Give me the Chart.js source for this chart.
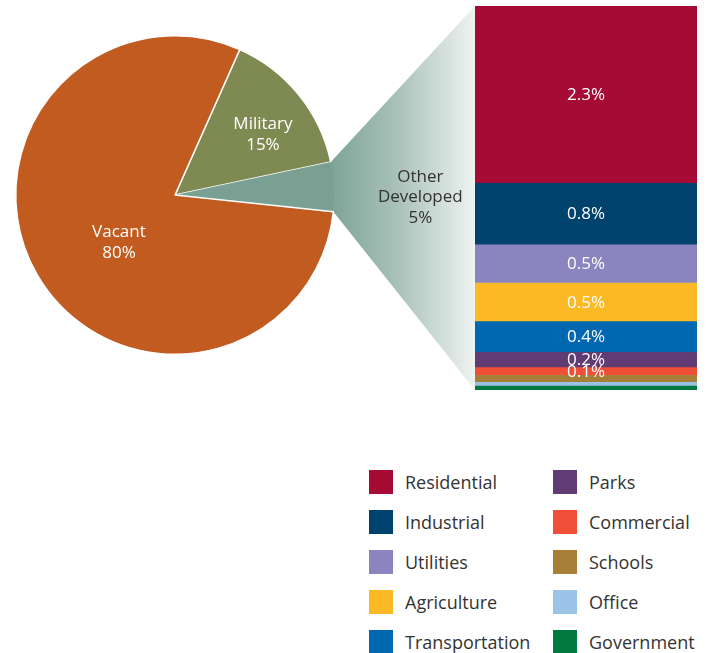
<!DOCTYPE html>
<html>
<head>
<meta charset="utf-8">
<script src="https://cdn.jsdelivr.net/npm/chart.js@4"></script>
<style>
  body { margin: 0; background: #fff; font-family: "Open Sans", sans-serif; }
  #wrap { position: relative; width: 706px; height: 653px; }
  #wrap canvas { position: absolute; left: 0; top: 0; }
  .legend-item { position: absolute; display: flex; align-items: center; font-size: 18px; color: #333; }
  .legend-item span.box { width: 24px; height: 24px; margin-right: 12px; }
</style>
</head>
<body>
<div id="wrap">
  <canvas id="bar-chart" width="706" height="400"></canvas>
  <canvas id="pie-chart" width="706" height="400"></canvas>
</div>
<script>
// Overall land use
const pieLabels = ["Military", "Other Developed", "Vacant"];
const pieValues = [15, 5, 80];
const pieColors = ["#7f8a53", "#7aa093", "#c15b20"];

// Breakdown of "Other Developed" (percent of total)
const landUses = [
  "Residential", "Industrial", "Utilities", "Agriculture", "Transportation",
  "Parks", "Commercial", "Schools", "Office", "Government",
];
const landShares = [2.3, 0.8, 0.5, 0.5, 0.4, 0.2, 0.1, 0.09, 0.05, 0.06];
const landColors = [
  "#a50b35", // Residential
  "#00426e", // Industrial
  "#8a85be", // Utilities
  "#fbb926", // Agriculture
  "#0067b1", // Transportation
  "#613b74", // Parks
  "#ee4f36", // Commercial
  "#a77f39", // Schools
  "#9ac3e6", // Office
  "#007a41", // Government
];

const FONT = '"Open Sans", sans-serif';
const otherTotal = landShares.reduce((s, v) => s + v, 0);

/**
 * Write the share above 0.1% inside each stacked segment.
 */
const segmentLabels = {
  id: "segmentLabels",
  afterDatasetsDraw(chart) {
    const ctx = chart.ctx;
    ctx.save();
    ctx.font = `17px ${FONT}`;
    ctx.fillStyle = "#fff";
    ctx.textAlign = "center";
    ctx.textBaseline = "middle";
    chart.data.datasets.forEach((ds, i) => {
      const v = ds.data[0];
      if (v < 0.1) return;
      const el = chart.getDatasetMeta(i).data[0];
      ctx.fillText(`${v.toFixed(1)}%`, el.x, (el.y + el.base) / 2 + 1);
    });
    ctx.restore();
  },
};

const barChart = new Chart(document.getElementById("bar-chart"), {
  type: "bar",
  data: {
    labels: [""],
    datasets: landUses.map((name, i) => ({
      label: name,
      data: [landShares[i]],
      backgroundColor: landColors[i],
      borderWidth: 0,
      barPercentage: 1,
      categoryPercentage: 1,
    })),
  },
  options: {
    responsive: false,
    animation: false,
    layout: { padding: { left: 475, right: 9, top: 6, bottom: 10 } },
    plugins: { legend: { display: false }, tooltip: { enabled: false } },
    scales: {
      x: { stacked: true, display: false },
      y: { stacked: true, display: false, reverse: true, min: 0, max: otherTotal },
    },
  },
  plugins: [segmentLabels],
});

/**
 * Shaded wedge joining the "Other Developed" slice to the stacked bar.
 */
const connector = {
  id: "connector",
  beforeDatasetsDraw(chart) {
    const arc = chart.getDatasetMeta(0).data[1];
    const { x, y, startAngle, endAngle, outerRadius } = arc.getProps(
      ["x", "y", "startAngle", "endAngle", "outerRadius"], true);
    const p1 = [x + outerRadius * Math.cos(startAngle), y + outerRadius * Math.sin(startAngle)];
    const p2 = [x + outerRadius * Math.cos(endAngle), y + outerRadius * Math.sin(endAngle)];

    const bar = barChart.getDatasetMeta(0).data[0];
    const barLeft = bar.x - bar.width / 2;
    const barTop = barChart.scales.y.getPixelForValue(0);
    const barBottom = barChart.scales.y.getPixelForValue(otherTotal);

    const ctx = chart.ctx;
    const grad = ctx.createLinearGradient(Math.min(p1[0], p2[0]), 0, barLeft, 0);
    grad.addColorStop(0, "#7ea497");
    grad.addColorStop(0.45, "#a8c0b8");
    grad.addColorStop(1, "#eef3f1");
    ctx.save();
    ctx.beginPath();
    ctx.moveTo(p1[0], p1[1]);
    ctx.lineTo(barLeft, barTop);
    ctx.lineTo(barLeft, barBottom);
    ctx.lineTo(p2[0], p2[1]);
    ctx.closePath();
    ctx.fillStyle = grad;
    ctx.fill();
    ctx.restore();
  },
};

/**
 * Slice names and percentages, placed along each slice's middle ray.
 */
const sliceLabels = {
  id: "sliceLabels",
  afterDatasetsDraw(chart, args, opts) {
    const ctx = chart.ctx;
    const meta = chart.getDatasetMeta(0);
    ctx.save();
    ctx.font = `17px ${FONT}`;
    ctx.textAlign = "center";
    ctx.textBaseline = "middle";
    meta.data.forEach((arc, i) => {
      const { x, y, startAngle, endAngle, outerRadius } = arc.getProps(
        ["x", "y", "startAngle", "endAngle", "outerRadius"], true);
      const pos = opts.place[i];
      const mid = (startAngle + endAngle) / 2;
      const cx = x + Math.cos(mid) * outerRadius * pos.r + pos.dx;
      const cy = y + Math.sin(mid) * outerRadius * pos.r + pos.dy;
      const lines = [...chart.data.labels[i].split(" "), `${chart.data.datasets[0].data[i]}%`];
      ctx.fillStyle = pos.color;
      lines.forEach((line, j) => {
        ctx.fillText(line, cx, cy + (j - (lines.length - 1) / 2) * 20.5);
      });
    });
    ctx.restore();
  },
};

new Chart(document.getElementById("pie-chart"), {
  type: "pie",
  data: {
    labels: pieLabels,
    datasets: [{
      data: pieValues,
      backgroundColor: pieColors,
      borderColor: "#fff",
      borderWidth: [1.5, 0, 1.5],
    }],
  },
  options: {
    responsive: false,
    animation: false,
    rotation: 24,
    layout: { padding: { left: 15, top: 35, right: 371, bottom: 45 } },
    plugins: {
      legend: { display: false },
      tooltip: { enabled: false },
      sliceLabels: {
        place: [
          { r: 0.67, dx: 5, dy: 7, color: "#fff" },
          { r: 1.53, dx: 2, dy: 15, color: "#333" },
          { r: 0.45, dx: 6, dy: 12, color: "#fff" },
        ],
      },
    },
  },
  plugins: [connector, sliceLabels],
});

// Two-column legend for the bar segments
const wrap = document.getElementById("wrap");
landUses.forEach((name, i) => {
  const item = document.createElement("div");
  item.className = "legend-item";
  item.style.left = (i < 5 ? 369 : 553) + "px";
  item.style.top = (470 + (i % 5) * 40) + "px";
  const box = document.createElement("span");
  box.className = "box";
  box.style.backgroundColor = landColors[i];
  item.appendChild(box);
  item.appendChild(document.createTextNode(name));
  wrap.appendChild(item);
});
</script>
</body>
</html>
